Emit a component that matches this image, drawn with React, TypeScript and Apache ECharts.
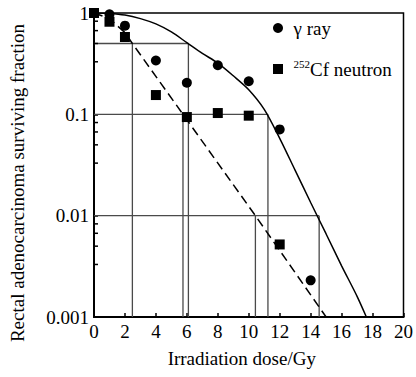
import React, { useEffect, useRef } from "react";
import * as echarts from "echarts";

// Measured points
const gammaDose = [1, 2, 4, 6, 8, 10, 12, 14];
const gammaSF = [0.97, 0.75, 0.34, 0.205, 0.305, 0.212, 0.071, 0.0023];
const neutronDose = [0, 1, 2, 4, 6, 8, 10, 12];
const neutronSF = [1, 0.82, 0.58, 0.155, 0.094, 0.103, 0.097, 0.0052];

// Fitted curves
const gammaFitDose = [0, 1, 2, 3, 4, 5, 6, 7, 8, 9, 10, 11, 12, 13, 14, 15, 16, 17, 17.6];
const gammaFitSF = [1, 0.99, 0.955, 0.88, 0.78, 0.65, 0.51, 0.4, 0.32, 0.24, 0.175, 0.112, 0.058, 0.028, 0.0135, 0.0066, 0.0032, 0.0016, 0.001];
const neutronFitDose = [0, 1, 2, 2.48, 5.75, 10.43, 15];
const neutronFitSF = [1, 0.88, 0.64, 0.5, 0.1, 0.01, 0.001];

// Guide lines: [x1, y1, x2, y2]
const guideSegments = [
  [0, 0.5, 6.1, 0.5],
  [0, 0.1, 11.24, 0.1],
  [0, 0.01, 14.55, 0.01],
  [2.48, 0.5, 2.48, 0.001],
  [5.75, 0.1, 5.75, 0.001],
  [6.1, 0.5, 6.1, 0.001],
  [10.43, 0.01, 10.43, 0.001],
  [11.24, 0.1, 11.24, 0.001],
  [14.55, 0.01, 14.55, 0.001],
];

const xTicks = [0, 2, 4, 6, 8, 10, 12, 14, 16, 18, 20];
const yTickLabels = ["0.001", "0.01", "0.1", "1"];
const minorFactors = [0.83, 0.67, 0.5, 0.33];
const decades = [1, 0.1, 0.01];

const FONT = "Liberation Serif";

export default function App() {
  const ref = useRef<HTMLDivElement>(null);
  useEffect(() => {
    document.body.style.margin = "0";
    const chart = echarts.init(ref.current!, undefined, { renderer: "svg" });
    const minorTicks: number[][] = [];
    decades.forEach((d) => minorFactors.forEach((f) => minorTicks.push([0, d * f])));

    const guideSeries = guideSegments.map((s, i) => ({
      type: "line",
      name: "guide" + i,
      data: [
        [s[0], s[1]],
        [s[2], s[3]],
      ],
      symbol: "none",
      silent: true,
      lineStyle: { color: "#4a4a4a", width: 1.3 },
      z: 1,
    }));

    chart.setOption({
      animation: false,
      textStyle: { fontFamily: FONT },
      grid: {
        left: 93,
        right: 9,
        top: 13,
        bottom: 60,
        show: true,
        borderColor: "#000",
        borderWidth: 1.5,
      },
      legend: [
        {
          data: ["γ ray"],
          orient: "vertical",
          left: 268,
          top: 12,
          icon: "circle",
          itemWidth: 21,
          itemHeight: 10,
          itemStyle: { color: "#000", opacity: 1 },
          textStyle: { fontFamily: FONT, fontSize: 19, color: "#000", lineHeight: 22 },
        },
        {
          data: ["252Cf neutron"],
          orient: "vertical",
          left: 268,
          top: 53,
          icon: "path://M0,0L10,0L10,10L0,10Z",
          itemWidth: 21,
          itemHeight: 10,
          itemStyle: { color: "#000", opacity: 1 },
          formatter: () => "{sup|252}{m|Cf neutron}",
          textStyle: {
            fontFamily: FONT,
            fontSize: 19,
            color: "#000",
            lineHeight: 22,
            rich: {
              sup: { fontFamily: FONT, fontSize: 11, verticalAlign: "top", color: "#000" },
              m: { fontFamily: FONT, fontSize: 19, color: "#000", lineHeight: 22 },
            },
          },
        },
      ],
      xAxis: {
        type: "value",
        min: xTicks[0],
        max: xTicks[xTicks.length - 1],
        interval: 2,
        name: "Irradiation dose/Gy",
        nameLocation: "middle",
        nameGap: 32,
        nameTextStyle: { fontFamily: FONT, fontSize: 19, color: "#000", padding: [0, 14, 0, 0] },
        axisLine: { lineStyle: { color: "#000", width: 2 } },
        axisTick: { inside: true, length: 4, lineStyle: { color: "#000", width: 1.5 } },
        axisLabel: { fontFamily: FONT, fontSize: 19, color: "#000", margin: 5 },
        splitLine: { show: false },
      },
      yAxis: {
        type: "log",
        logBase: 10,
        min: 0.001,
        max: 1,
        name: "Rectal adenocarcinoma surviving fraction",
        nameLocation: "middle",
        nameGap: 67,
        nameTextStyle: { fontFamily: FONT, fontSize: 19, color: "#000", padding: [0, 36, 0, 0] },
        axisLine: { show: true, lineStyle: { color: "#000", width: 2 } },
        axisTick: { inside: true, length: 4, lineStyle: { color: "#000", width: 1.5 } },
        axisLabel: {
          fontFamily: FONT,
          fontSize: 19,
          color: "#000",
          margin: 5,
          formatter: (v: number) => {
            const s = yTickLabels.find((t) => Math.abs(parseFloat(t) - v) < v * 1e-6);
            return s ?? "";
          },
        },
        splitLine: { show: false },
      },
      series: [
        ...guideSeries,
        {
          type: "line",
          name: "gammaFit",
          data: gammaFitDose.map((d, i) => [d, gammaFitSF[i]]),
          symbol: "none",
          smooth: 0.3,
          silent: true,
          lineStyle: { color: "#000", width: 1.5 },
          z: 2,
        },
        {
          type: "line",
          name: "neutronFit",
          data: neutronFitDose.map((d, i) => [d, neutronFitSF[i]]),
          symbol: "none",
          silent: true,
          lineStyle: { color: "#000", width: 1.5, type: [9, 5] },
          z: 2,
        },
        {
          type: "custom",
          name: "minorTicks",
          data: minorTicks,
          silent: true,
          clip: false,
          renderItem: (params: any, api: any) => {
            const p = api.coord([0, api.value(1)]);
            return {
              type: "line",
              shape: { x1: p[0], y1: p[1], x2: p[0] + 4, y2: p[1] },
              style: { stroke: "#000", lineWidth: 1.5 },
            };
          },
          z: 3,
        },
        {
          type: "scatter",
          name: "γ ray",
          data: gammaDose.map((d, i) => [d, gammaSF[i]]),
          symbol: "circle",
          symbolSize: 10,
          itemStyle: { color: "#000", opacity: 1 },
          clip: false,
          z: 4,
        },
        {
          type: "scatter",
          name: "252Cf neutron",
          data: neutronDose.map((d, i) => [d, neutronSF[i]]),
          symbol: "rect",
          symbolSize: 10,
          itemStyle: { color: "#000", opacity: 1 },
          clip: false,
          z: 4,
        },
      ],
    });
    return () => chart.dispose();
  }, []);
  return <div ref={ref} style={{ width: 416, height: 377 }} />;
}
